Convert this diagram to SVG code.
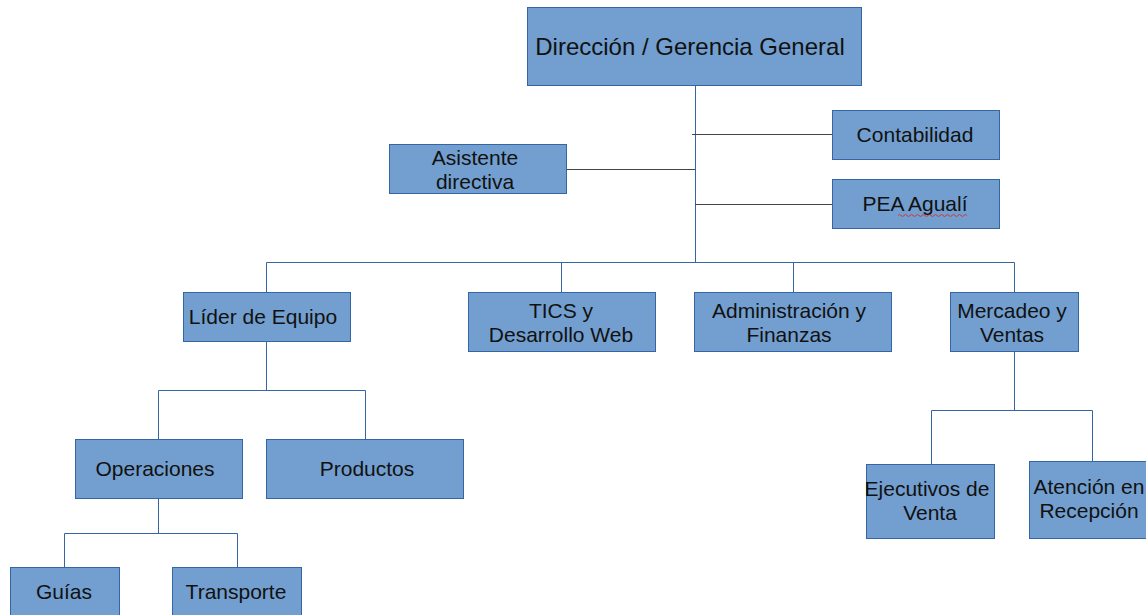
<svg xmlns="http://www.w3.org/2000/svg" width="1146" height="615" viewBox="0 0 1146 615">
<style>
.box{fill:#729fcf;stroke:#3465a4;stroke-width:1}
.t{font-family:"Liberation Sans",Arial,sans-serif;font-size:21px;fill:#111;text-anchor:middle}
.big{font-size:24px}
.c{fill:none;stroke:#3465a4;stroke-width:1}
.g{fill:none;stroke:#444;stroke-width:1}
</style>
<rect width="1146" height="615" fill="#fff"/>
<g id="connectors">
<path class="c" d="M695.5 85V262.5"/>
<path class="g" d="M692 134.5H832"/>
<path class="g" d="M566 169.5H695"/>
<path class="g" d="M695 204.5H832"/>
<path class="c" d="M266.5 292V262.5H1014.5V292M561.5 262.5V292M793.5 262.5V292"/>
<path class="c" d="M266.5 341V390.5M158.5 439V390.5H365.5V439"/>
<path class="c" d="M158.5 498V533.5M64.5 567V533.5H237.5V567"/>
<path class="c" d="M1014.5 351V410.5M931.5 464V410.5H1092.5V461"/>
</g>
<g id="n-direccion"><rect class="box" x="527.5" y="7.5" width="334" height="78"/><text class="t big" x="690" y="55">Dirección / Gerencia General</text></g>
<g id="n-contabilidad"><rect class="box" x="832.5" y="110.5" width="167" height="49"/><text class="t" x="915" y="142">Contabilidad</text></g>
<g id="n-asistente"><rect class="box" x="389.5" y="144.5" width="177" height="49"/><text class="t" x="475" y="165">Asistente</text><text class="t" x="475" y="189">directiva</text></g>
<g id="n-pea"><rect class="box" x="832.5" y="179.5" width="167" height="49"/><text class="t" x="915" y="211">PEA Agualí</text><path d="M898 215.5q1.5-2 3 0t3 0t3 0t3 0t3 0t3 0t3 0t3 0t3 0t3 0t3 0t3 0t3 0t3 0t3 0t3 0t3 0t3 0t3 0t3 0t3 0t3 0t3 0" fill="none" stroke="#e0201c" stroke-width="0.8"/></g>
<g id="n-lider"><rect class="box" x="183.5" y="292.5" width="167" height="49"/><text class="t" x="263" y="324">Líder de Equipo</text></g>
<g id="n-tics"><rect class="box" x="468.5" y="292.5" width="187" height="59"/><text class="t" x="561" y="318">TICS y</text><text class="t" x="561" y="342">Desarrollo Web</text></g>
<g id="n-admin"><rect class="box" x="694.5" y="292.5" width="197" height="59"/><text class="t" x="789" y="318">Administración y</text><text class="t" x="789" y="342">Finanzas</text></g>
<g id="n-mercadeo"><rect class="box" x="950.5" y="292.5" width="128" height="59"/><text class="t" x="1012" y="318">Mercadeo y</text><text class="t" x="1012" y="342">Ventas</text></g>
<g id="n-operaciones"><rect class="box" x="75.5" y="439.5" width="167" height="59"/><text class="t" x="155" y="476">Operaciones</text></g>
<g id="n-productos"><rect class="box" x="266.5" y="439.5" width="197" height="59"/><text class="t" x="367" y="476">Productos</text></g>
<g id="n-guias"><rect class="box" x="10.5" y="567.5" width="109" height="60"/><text class="t" x="64" y="599">Guías</text></g>
<g id="n-transporte"><rect class="box" x="172.5" y="567.5" width="129" height="60"/><text class="t" x="236" y="599">Transporte</text></g>
<g id="n-ejecutivos"><rect class="box" x="866.5" y="464.5" width="128" height="74"/><text class="t" x="927" y="496">Ejecutivos de</text><text class="t" x="930" y="520">Venta</text></g>
<g id="n-atencion"><rect class="box" x="1029.5" y="461.5" width="130" height="77"/><text class="t" x="1089" y="494">Atención en</text><text class="t" x="1089" y="518">Recepción</text></g>
</svg>
